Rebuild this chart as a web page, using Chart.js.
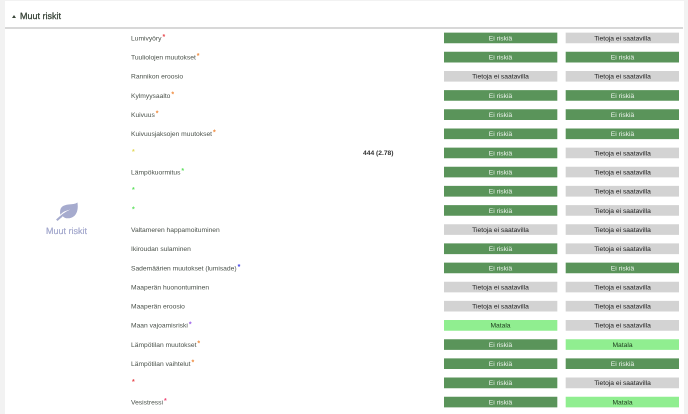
<!DOCTYPE html>
<html>
<head>
<meta charset="utf-8">
<script src="https://cdn.jsdelivr.net/npm/chart.js@4"></script>
<style>
    html, body { margin: 0; padding: 0; background: #f2f2f2; overflow: hidden; }
    #page { position: absolute; left: 0; top: 0; width: 688px; height: 414px; filter: blur(0.2px); text-rendering: geometricPrecision; }
    #panel { position: absolute; left: 5px; top: 1px; width: 679px; height: 413px; background: #fff; }
    #wrap { position: absolute; left: 0; top: 0; width: 688px; height: 414px; }
    #title { position: absolute; left: 20px; top: 11px; font: 9px "Liberation Sans", sans-serif; color: #2f3b2f; -webkit-text-stroke: 0.25px #2f3b2f; }
    #caret { position: absolute; left: 12px; top: 15px; width: 0; height: 0; border-left: 2.5px solid transparent; border-right: 2.5px solid transparent; border-bottom: 3px solid #3b473b; }
    #rule { position: absolute; left: 5px; top: 27px; width: 678px; height: 1.5px; background: #d8d8d8; }
    #side { position: absolute; left: 46px; top: 225.5px; font: 9px "Liberation Sans", sans-serif; color: #a0a5cb; -webkit-text-stroke: 0.2px #a0a5cb; }
    #leaf { position: absolute; left: 56px; top: 202px; }
</style>
</head>
<body>
<div id="page">
<div id="panel"></div>
<div id="wrap"><canvas id="chart" width="688" height="414"></canvas></div>
<div id="caret"></div>
<div id="title">Muut riskit</div>
<div id="rule"></div>
<svg id="leaf" width="22" height="19" viewBox="0 0 23 20">
    <path fill="#a6abce" d="M22.5 0.5C23.5 7 22.5 14 16 16.5C12 18 8.5 17 7 15C5.5 16.5 3.5 18.5 1.5 20L0 18.5C5 14 9 10.5 15 8C10 9 6.5 11 4.5 13.5C3 6 7 3 13 2.5C17 2.2 20 2.5 22.5 0.5Z"/>
</svg>
<div id="side">Muut riskit</div>
</div>
<script>
const rowLabels = ["Lumivyöry", "Tuuliolojen muutokset", "Rannikon eroosio", "Kylmyysaalto", "Kuivuus",
    "Kuivuusjaksojen muutokset", "", "Lämpökuormitus", "", "", "Valtameren happamoituminen", "Ikiroudan sulaminen",
    "Sademäärien muutokset (lumisade)", "Maaperän huonontuminen", "Maaperän eroosio", "Maan vajoamisriski",
    "Lämpötilan muutokset", "Lämpötilan vaihtelut", "", "Vesistressi"];
const starColors = ["#e8474c", "#f08a3c", null, "#f08a3c", "#f08a3c", "#f08a3c", "#e3d95a", "#5fe05f", "#5fe05f", "#5fe05f",
    null, null, "#3a3ae8", null, null, "#9a5be8", "#f08a3c", "#f08a3c", "#e8474c", "#ef4a78"];
const NO_RISK = "Ei riskiä", NO_DATA = "Tietoja ei saatavilla", LOW = "Matala";
const firstColumn = [NO_RISK, NO_RISK, NO_DATA, NO_RISK, NO_RISK, NO_RISK, NO_RISK, NO_RISK, NO_RISK, NO_RISK,
    NO_DATA, NO_RISK, NO_RISK, NO_DATA, NO_DATA, LOW, NO_RISK, NO_RISK, NO_RISK, NO_RISK];
const secondColumn = [NO_DATA, NO_RISK, NO_DATA, NO_RISK, NO_RISK, NO_RISK, NO_DATA, NO_DATA, NO_DATA, NO_DATA,
    NO_DATA, NO_DATA, NO_RISK, NO_DATA, NO_DATA, NO_DATA, LOW, NO_RISK, NO_DATA, LOW];
const extraValues = { 6: "444 (2.78)" };

const fills = { [NO_RISK]: "#5a945a", [NO_DATA]: "#d3d3d3", [LOW]: "#90ee90" };
const inks = { [NO_RISK]: "#eef4ee", [NO_DATA]: "#222", [LOW]: "#1d3a1d" };
const textFont = '6.7px "Liberation Sans", sans-serif';

// row keys stay unique, several rows have no visible name
const rowKeys = rowLabels.map((label, i) => i + ":" + label);
const toBars = (statuses, from) => statuses.map((status, i) => ({ x: [from, from + 1], y: rowKeys[i], status: status }));

// Row names, asterisks and the texts inside the bars
const rowTexts = {
    id: "rowTexts",
    afterDatasetsDraw(chart) {
        const ctx = chart.ctx;
        const y = chart.scales.y;
        ctx.save();
        ctx.textBaseline = "middle";
        rowLabels.forEach((label, i) => {
            const py = y.getPixelForValue(i);
            ctx.textAlign = "left";
            ctx.font = textFont;
            ctx.fillStyle = "#4a514a";
            ctx.fillText(label, 131, py + 0.5);
            if (starColors[i]) {
                const w = ctx.measureText(label).width;
                ctx.fillStyle = starColors[i];
                ctx.font = 'bold 7px "Liberation Sans", sans-serif';
                ctx.fillText("*", 131 + w + 1, py - 1);
            }
            if (extraValues[i]) {
                ctx.fillStyle = "#333";
                ctx.font = 'bold 6.7px "Liberation Sans", sans-serif';
                ctx.fillText(extraValues[i], 363, py);
            }
        });
        ctx.textAlign = "center";
        ctx.font = textFont;
        chart.data.datasets.forEach((dataset, d) => {
            chart.getDatasetMeta(d).data.forEach((bar, i) => {
                const status = dataset.data[i].status;
                const props = bar.getProps(["x", "base", "y"], true);
                ctx.fillStyle = inks[status];
                ctx.fillText(status, (props.x + props.base) / 2, props.y + 0.5);
            });
        });
        ctx.restore();
    }
};

new Chart(document.getElementById("chart"), {
    type: "bar",
    data: {
        labels: rowKeys,
        datasets: [
            { data: toBars(firstColumn, 0), backgroundColor: firstColumn.map((s) => fills[s]) },
            { data: toBars(secondColumn, 1.08), backgroundColor: secondColumn.map((s) => fills[s]) }
        ]
    },
    options: {
        indexAxis: "y",
        responsive: false,
        animation: false,
        devicePixelRatio: 2,
        parsing: { xAxisKey: "x", yAxisKey: "y" },
        layout: { padding: { left: 444, right: 9, top: 28.4, bottom: 2.4 } },
        datasets: {
            bar: {
                grouped: false,
                barThickness: 10,
                borderSkipped: false
            }
        },
        scales: {
            x: { display: false, min: 0, max: 2.08 },
            y: { display: false }
        },
        plugins: { legend: { display: false }, tooltip: { enabled: false } }
    },
    plugins: [rowTexts]
});
</script>
</body>
</html>
